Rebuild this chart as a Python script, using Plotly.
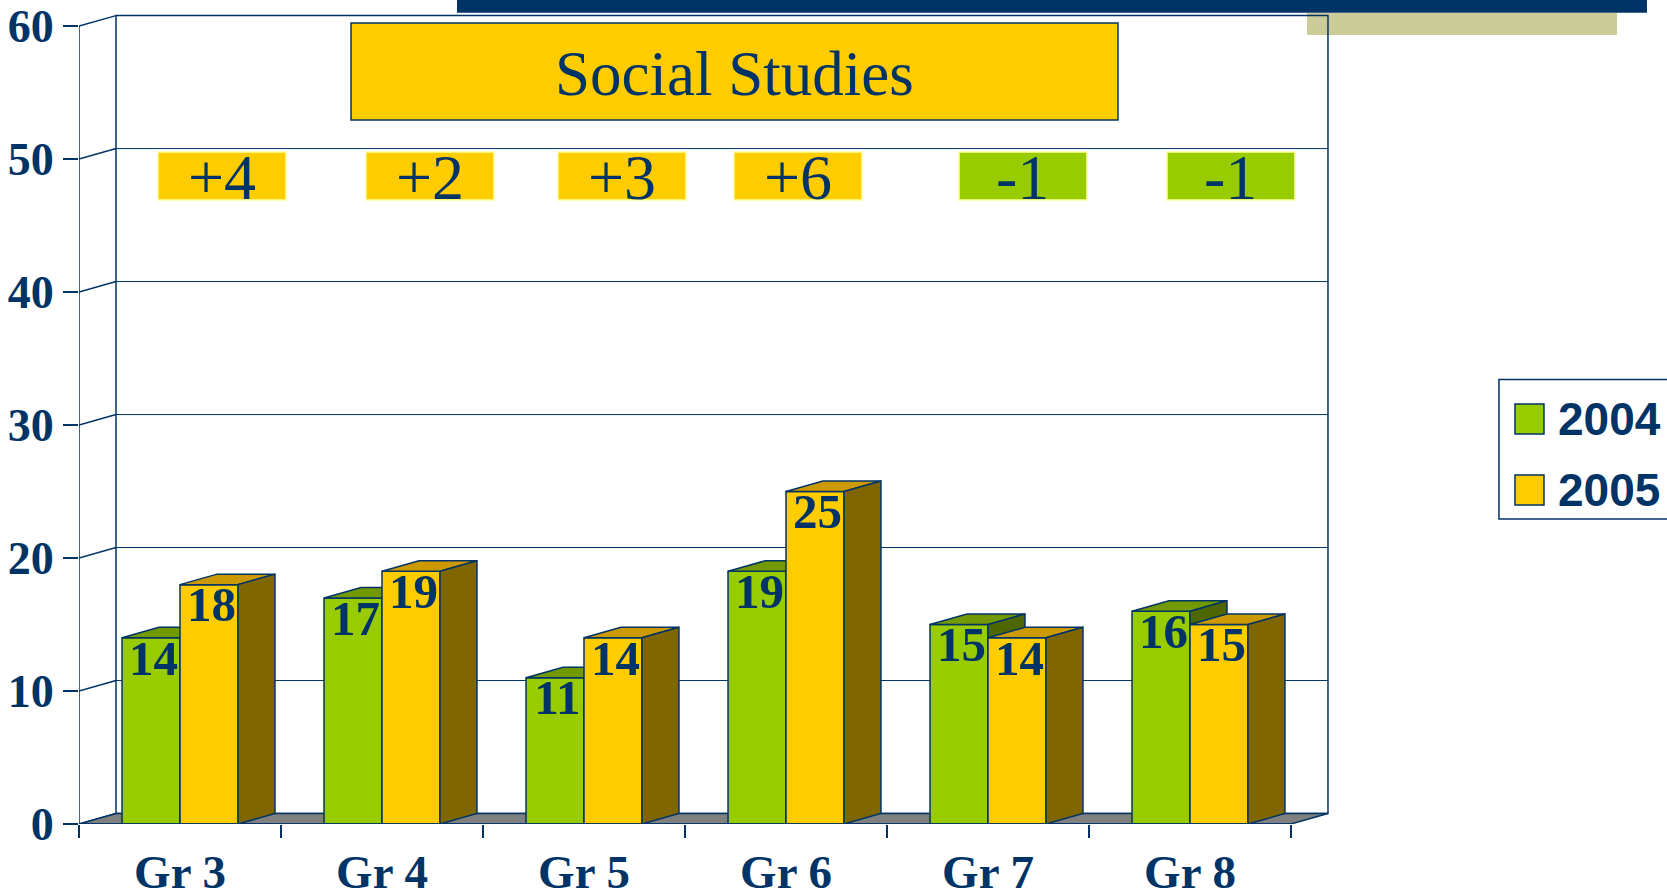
import plotly.graph_objects as go

# ---------------- data ----------------
categories = ["Gr 3", "Gr 4", "Gr 5", "Gr 6", "Gr 7", "Gr 8"]
scores_2004 = [14, 17, 11, 19, 15, 16]
scores_2005 = [18, 19, 14, 25, 14, 15]
series_names = ["2004", "2005"]
y_ticks = [0, 10, 20, 30, 40, 50, 60]
title_text = "Social Studies"

# ---------------- style / geometry ----------------
W, H = 1667, 895
L_PX, B_PX = 79, 824
PX_PER_CAT, PX_PER_VAL = 202, 13.3
DEPTH_PX_X, DEPTH_PX_Y = 37, 10.5
BAR_W = 0.287
DX = DEPTH_PX_X / PX_PER_CAT
DY = DEPTH_PX_Y / PX_PER_VAL
YMAX = y_ticks[-1]
n = len(categories)
x_lo, x_hi = -0.5, n - 0.5 + DX + 0.01
y_lo, y_hi = 0, YMAX + DY + 0.12
plot_w = (x_hi - x_lo) * PX_PER_CAT
plot_h = (y_hi - y_lo) * PX_PER_VAL
m_l = L_PX
m_b = H - B_PX
m_r = W - L_PX - plot_w
m_t = H - m_b - plot_h


def px_x(p):
    return (p - L_PX) / plot_w


def px_y(p):
    return (B_PX - p) / plot_h


NAVY = "#003366"
GREEN, GREEN_TOP, GREEN_SIDE = "#99CC00", "#739900", "#4D6600"
GOLD, GOLD_TOP, GOLD_SIDE = "#FFCC00", "#CC9900", "#806600"
FLOOR = "#808080"
KHAKI = "#CCCC99"
SERIF = "Liberation Serif"
SANS = "Liberation Sans"

fig = go.Figure()


def poly(xs, ys, fill, xa, ya):
    fig.add_trace(go.Scatter(
        x=xs + [xs[0]], y=ys + [ys[0]], mode="lines", fill="toself",
        fillcolor=fill, line=dict(color=NAVY, width=1.5),
        hoverinfo="skip", showlegend=False, xaxis=xa, yaxis=ya))


def bar3d(centers, values, front, top, side, xa, ya):
    fig.add_trace(go.Bar(
        x=centers, y=values, width=BAR_W, marker=dict(color=front, line=dict(color=NAVY, width=1.5)),
        showlegend=False, hoverinfo="skip", xaxis=xa, yaxis=ya))
    for c, v in zip(centers, values):
        xl, xr = c - BAR_W / 2, c + BAR_W / 2
        poly([xl, xr, xr + DX, xl + DX], [v, v, v + DY, v + DY], top, xa, ya)
        poly([xr, xr + DX, xr + DX, xr], [0, DY, v + DY, v], side, xa, ya)


# green layer (x, y), gold layer overlaid on top (x2, y2)
green_x = [i - BAR_W / 2 for i in range(n)]
gold_x = [i + BAR_W / 2 for i in range(n)]
bar3d(green_x, scores_2004, GREEN, GREEN_TOP, GREEN_SIDE, "x", "y")
bar3d(gold_x, scores_2005, GOLD, GOLD_TOP, GOLD_SIDE, "x2", "y2")

# front edges of the frame
fig.add_trace(go.Scatter(x=[-0.5, -0.5, n - 0.5], y=[YMAX, 0, 0], mode="lines",
                         line=dict(color=NAVY, width=1.5), cliponaxis=False,
                         hoverinfo="skip", showlegend=False, xaxis="x2", yaxis="y2"))

# value labels
fig.add_trace(go.Scatter(
    x=[x + 0.012 for x in green_x + gold_x], y=scores_2004 + scores_2005, mode="text",
    text=[str(v) for v in scores_2004 + scores_2005], textposition="bottom center",
    textfont=dict(family=SERIF, size=49, color=NAVY, weight="bold"),
    cliponaxis=False, hoverinfo="skip", showlegend=False, xaxis="x2", yaxis="y2"))

shapes = []
# khaki accent (paper, below)
shapes.append(dict(type="rect", xref="paper", yref="paper", layer="below",
                   x0=px_x(1307), x1=px_x(1617), y0=px_y(35), y1=px_y(13),
                   fillcolor=KHAKI, line=dict(width=0)))
# back wall
bx0, bx1 = -0.5 + DX, n - 0.5 + DX
shapes.append(dict(type="rect", xref="x", yref="y", layer="below",
                   x0=bx0, x1=bx1, y0=DY, y1=YMAX + DY,
                   line=dict(color=NAVY, width=1.5)))
for v in y_ticks[1:-1]:
    shapes.append(dict(type="line", xref="x", yref="y", layer="below",
                       x0=bx0, x1=bx1, y0=v + DY, y1=v + DY,
                       line=dict(color=NAVY, width=1)))
for v in y_ticks:
    shapes.append(dict(type="line", xref="x", yref="y", layer="below",
                       x0=-0.5, x1=bx0, y0=v, y1=v + DY,
                       line=dict(color=NAVY, width=1.5)))
# floor
shapes.append(dict(type="path", xref="x", yref="y", layer="below",
                   path=f"M -0.5,0 L {n-0.5},0 L {n-0.5+DX},{DY} L {bx0},{DY} Z",
                   fillcolor=FLOOR, line=dict(color=NAVY, width=1.5)))
# top dark band
shapes.append(dict(type="rect", xref="paper", yref="paper", layer="above",
                   x0=px_x(457), x1=px_x(1647), y0=px_y(12.7), y1=px_y(-2),
                   fillcolor=NAVY, line=dict(width=0)))
# title box
shapes.append(dict(type="rect", xref="paper", yref="paper", layer="above",
                   x0=px_x(351), x1=px_x(1118), y0=px_y(120), y1=px_y(23),
                   fillcolor=GOLD, line=dict(color=NAVY, width=1.5)))

annotations = [dict(xref="paper", yref="paper", x=px_x(734.5), y=px_y(74),
                    text=title_text, showarrow=False, xanchor="center", yanchor="middle",
                    font=dict(family=SERIF, size=63, color=NAVY))]

# change boxes
delta_centers_px = [222, 430, 622, 798, 1023, 1231]
for d_px, a, b in zip(delta_centers_px, scores_2004, scores_2005):
    d = b - a
    shapes.append(dict(type="rect", xref="paper", yref="paper", layer="above",
                       x0=px_x(d_px - 64), x1=px_x(d_px + 64), y0=px_y(200), y1=px_y(152),
                       fillcolor=GOLD if d >= 0 else GREEN, line=dict(color="#FFFF99", width=1.5)))
    annotations.append(dict(xref="paper", yref="paper", x=px_x(d_px), y=px_y(177),
                            text=f"{d:+d}", showarrow=False, xanchor="center", yanchor="middle",
                            font=dict(family=SERIF, size=64, color=NAVY)))

# manual legend
shapes.append(dict(type="rect", xref="paper", yref="paper", layer="above",
                   x0=px_x(1499), x1=px_x(1700), y0=px_y(519), y1=px_y(379.5),
                   line=dict(color=NAVY, width=1.5)))
for name, col, cy in zip(series_names, [GREEN, GOLD], [419, 490]):
    shapes.append(dict(type="rect", xref="paper", yref="paper", layer="above",
                       x0=px_x(1515), x1=px_x(1544), y0=px_y(cy + 15), y1=px_y(cy - 15),
                       fillcolor=col, line=dict(color=NAVY, width=1.5)))
    annotations.append(dict(xref="paper", yref="paper", x=px_x(1556), y=px_y(cy),
                            text=name, showarrow=False, xanchor="left", yanchor="middle",
                            font=dict(family=SANS, size=46, color=NAVY, weight="bold")))

fig.update_layout(
    width=W, height=H, margin=dict(l=m_l, r=m_r, t=m_t, b=m_b, pad=0, autoexpand=False),
    paper_bgcolor="white", plot_bgcolor="white", barmode="overlay", showlegend=False,
    shapes=shapes, annotations=annotations,
    xaxis=dict(range=[x_lo, x_hi], showgrid=False, zeroline=False, showline=False,
               tickmode="array", tickvals=list(range(n)), ticktext=categories, ticks="",
               ticklabelstandoff=16,
               tickfont=dict(family=SERIF, size=47, color=NAVY, weight="bold"),
               minor=dict(tickmode="array", tickvals=[i - 0.5 for i in range(n + 1)],
                          ticks="outside", ticklen=13, tickcolor=NAVY, tickwidth=1.5,
                          showgrid=False)),
    yaxis=dict(range=[y_lo, y_hi], showgrid=False, zeroline=False, showline=False,
               tickmode="array", tickvals=y_ticks, ticks="outside", ticklen=15,
               tickcolor=NAVY, tickwidth=1.5,
               tickfont=dict(family=SERIF, size=46, color=NAVY, weight="bold")),
    xaxis2=dict(range=[x_lo, x_hi], overlaying="x", visible=False),
    yaxis2=dict(range=[y_lo, y_hi], overlaying="y", visible=False),
)

fig.write_html("out.html", config={"displayModeBar": False},
               post_script="document.body.style.margin='0';")
